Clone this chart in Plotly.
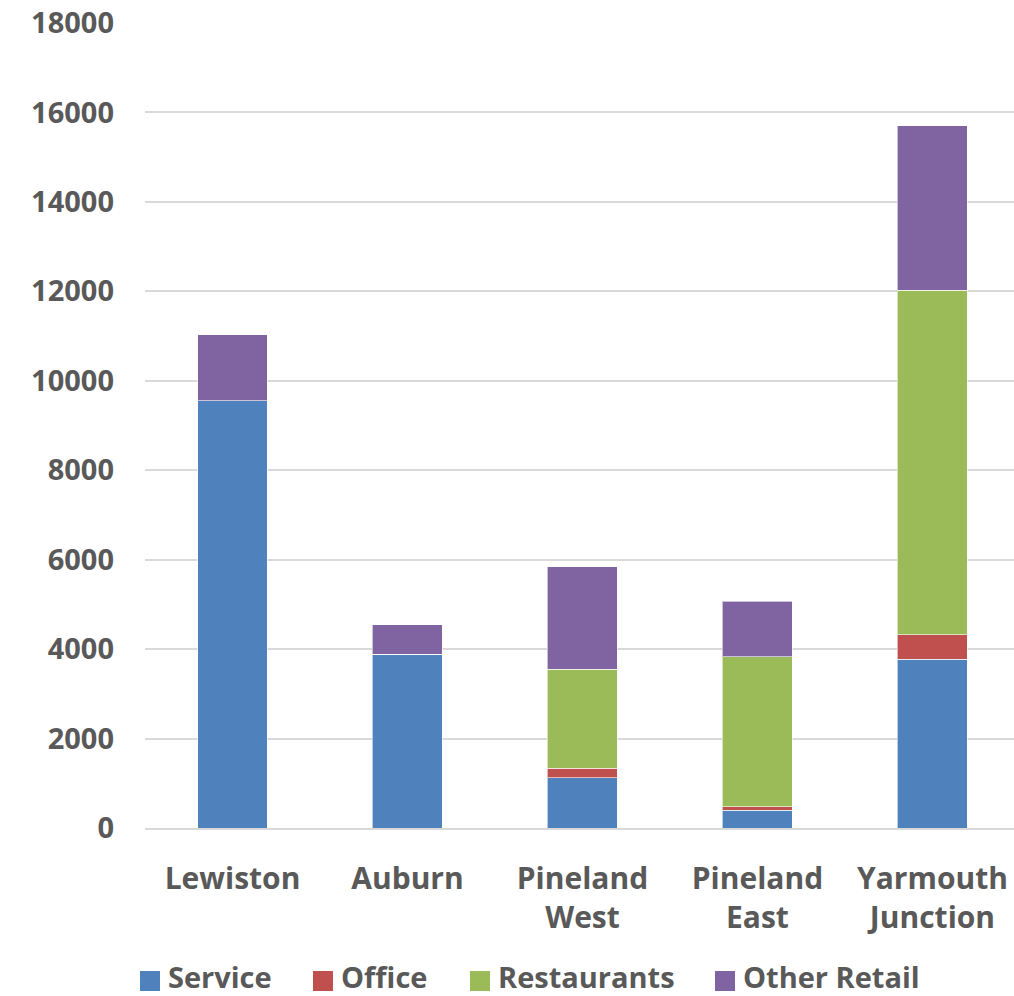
import plotly.graph_objects as go

categories = ["Lewiston", "Auburn", "Pineland<br>West", "Pineland<br>East", "Yarmouth<br>Junction"]
service = [9550, 3890, 1120, 400, 3775]
office = [0, 0, 220, 70, 550]
restaurants = [0, 0, 2215, 3355, 7695]
other_retail = [1480, 660, 2290, 1240, 3680]
y_ticks = [0, 2000, 4000, 6000, 8000, 10000, 12000, 14000, 16000, 18000]

series_names = ["Service", "Office", "Restaurants", "Other Retail"]
series_values = [service, office, restaurants, other_retail]
series_colors = ["#4F81BD", "#C0504D", "#9BBB59", "#8064A2"]

font_family = "Open Sans"
text_color = "#595959"
fig = go.Figure()
for name, vals, color in zip(series_names, series_values, series_colors):
    fig.add_trace(go.Bar(
        x=categories, y=vals, name=name,
        marker=dict(color=color, line=dict(color="rgba(255,255,255,0.6)", width=1)),
        width=0.4, showlegend=False,
    ))

# custom legend (squares + labels) at the bottom
legend_square_x = [140, 313, 470, 715]
W, H = 1014, 996
for sx, name, color in zip(legend_square_x, series_names, series_colors):
    fig.add_shape(type="rect", xref="paper", yref="paper",
                  x0=(sx - 145) / (W - 145), x1=(sx + 20 - 145) / (W - 145),
                  y0=-(991 - 828) / (828 - 23), y1=-(971 - 828) / (828 - 23),
                  fillcolor=color, line=dict(width=0))
    fig.add_annotation(text=name, xref="paper", yref="paper",
                       x=(sx + 26 - 145) / (W - 145), y=-(977 - 828) / (828 - 23),
                       xanchor="left", yanchor="middle", showarrow=False,
                       font=dict(family=font_family, size=29, color=text_color, weight="bold"))

fig.update_layout(
    barmode="stack",
    width=W, height=H,
    margin=dict(l=145, r=0, t=23, b=168),
    plot_bgcolor="white", paper_bgcolor="white",
    font=dict(family=font_family, size=29, color=text_color),
    showlegend=False,
)
fig.update_yaxes(range=[0, 18000], tickvals=y_ticks, ticktext=[str(v) for v in y_ticks],
                 showgrid=True, gridcolor="#D9D9D9", gridwidth=2, automargin=False,
                 zeroline=False, showline=False, ticks="", ticklabelstandoff=30,
                 tickfont=dict(family=font_family, size=29, color=text_color, weight="bold"))
fig.update_xaxes(range=[-0.5, 4.466], showline=True, linecolor="#D9D9D9", linewidth=2, ticks="",
                 ticklabelstandoff=23, automargin=False,
                 tickfont=dict(family=font_family, size=30, color=text_color, weight="bold"))

fig.write_html("out.html")
